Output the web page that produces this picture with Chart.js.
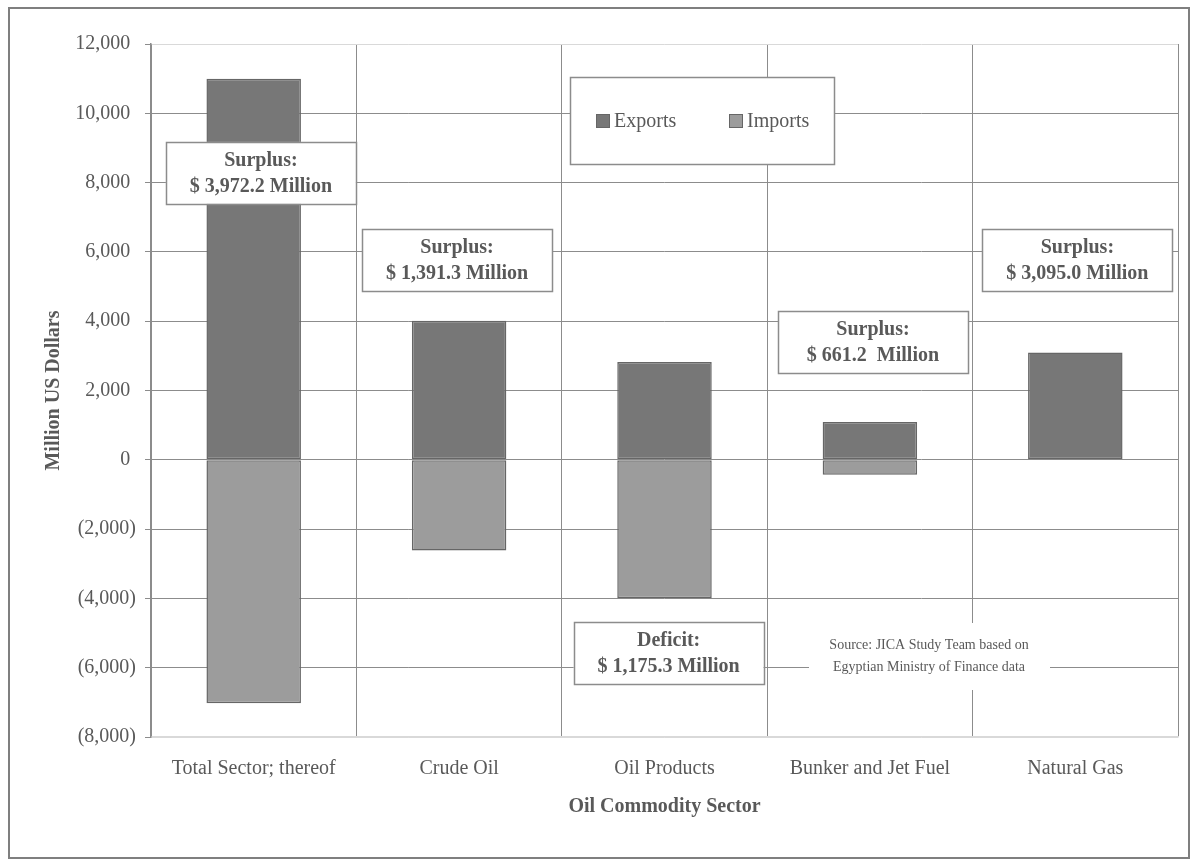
<!DOCTYPE html>
<html lang="en">
<head>
  <meta charset="UTF-8">
  <title>Oil Commodity Sector Trade Balance</title>
  <script src="https://cdn.jsdelivr.net/npm/chart.js"></script>
  <style>
    html, body { margin: 0; padding: 0; background: #fff; }
    #wrap { width: 1192px; height: 861px; }
  </style>
</head>
<body>
  <div id="wrap"><canvas id="balanceChart" width="1192" height="861"></canvas></div>

  <script>
    // data (million US$)
    const sectors = ['Total Sector; thereof', 'Crude Oil', 'Oil Products', 'Bunker and Jet Fuel', 'Natural Gas'];
    const exportsValues = [11000, 4010, 2820, 1090, 3095];
    const importsValues = [-7028, -2619, -3995, -429, 0];
    const balanceKinds = ['Surplus:', 'Surplus:', 'Deficit:', 'Surplus:', 'Surplus:'];
    const balanceAmounts = ['$ 3,972.2 Million', '$ 1,391.3 Million', '$ 1,175.3 Million', '$ 661.2  Million', '$ 3,095.0 Million'];
    const yTicks = [-8000, -6000, -4000, -2000, 0, 2000, 4000, 6000, 8000, 10000, 12000];

    const FONT = "'Liberation Serif', 'Times New Roman', serif";
    const TEXT = '#595959';
    const GRID = '#8c8c8c';
    const EDGE = '#d9d9d9';

    // where each balance box sits: category index (+ shift) and y value of its centre
    const boxAnchors = [
      { shift: 0.035, y: 8280 },
      { shift: -0.01, y: 5770 },
      { shift: 0.02, y: -5580 },
      { shift: 0.015, y: 3400 },
      { shift: 0.01, y: 5770 }
    ];

    // accounting style: negatives in brackets, positives leave room for the bracket
    function fmt(v) {
      const s = Math.abs(v).toLocaleString('en-US');
      return v < 0 ? '(' + s + ')' : s + '\u2009\u200A';
    }

    const extras = {
      id: 'extras',
      beforeDraw(chart) {
        const c = chart.ctx;
        c.save();
        c.fillStyle = '#fff';
        c.fillRect(0, 0, chart.width, chart.height);
        c.strokeStyle = '#7f7f7f';
        c.lineWidth = 2;
        c.strokeRect(9, 8, chart.width - 12, chart.height - 11);
        c.restore();
      },
      afterDatasetsDraw(chart) {
        const c = chart.ctx;
        const xs = chart.scales.x, ys = chart.scales.y;
        const area = chart.chartArea;
        c.save();

        // balance boxes
        const bw = 190, bh = 62;
        boxAnchors.forEach((a, i) => {
          const cx = xs.getPixelForValue(i) + a.shift * (xs.width / sectors.length);
          const cy = ys.getPixelForValue(a.y);
          c.fillStyle = '#fff';
          c.fillRect(cx - bw / 2, cy - bh / 2, bw, bh);
          c.strokeStyle = '#8c8c8c';
          c.lineWidth = 1.5;
          c.strokeRect(Math.round(cx - bw / 2) + 0.5, Math.round(cy - bh / 2) + 0.5, bw, bh);
          c.fillStyle = TEXT;
          c.font = 'bold 20px ' + FONT;
          c.textAlign = 'center';
          c.textBaseline = 'middle';
          c.fillText(balanceKinds[i], cx, cy - 12);
          c.fillText(balanceAmounts[i], cx, cy + 14);
        });

        // legend box
        const lx = area.left + 419, ly = area.top + 33, lw = 264, lh = 87;
        c.fillStyle = '#fff';
        c.fillRect(lx, ly, lw, lh);
        c.strokeStyle = '#8c8c8c';
        c.lineWidth = 1.5;
        c.strokeRect(lx + 0.5, ly + 0.5, lw, lh);
        const items = [
          { label: 'Exports', fill: '#777777', x: lx + 26 },
          { label: 'Imports', fill: '#9c9c9c', x: lx + 159 }
        ];
        items.forEach(it => {
          c.fillStyle = it.fill;
          c.fillRect(it.x, ly + 37, 14, 14);
          c.strokeStyle = '#666';
          c.lineWidth = 1;
          c.strokeRect(it.x + 0.5, ly + 37.5, 13, 13);
          c.fillStyle = TEXT;
          c.font = '20px ' + FONT;
          c.textAlign = 'left';
          c.textBaseline = 'middle';
          c.fillText(it.label, it.x + 18, ly + 45);
        });

        // source note
        c.fillStyle = '#fff';
        c.fillRect(809, 623, 241, 67);
        c.fillStyle = TEXT;
        c.font = '14px ' + FONT;
        c.textAlign = 'center';
        c.textBaseline = 'middle';
        c.fillText('Source: JICA Study Team based on', 929, 645);
        c.fillText('Egyptian Ministry of Finance data', 929, 667);
        c.restore();
      }
    };

    const ctx = document.getElementById('balanceChart').getContext('2d');
    new Chart(ctx, {
      type: 'bar',
      data: {
        labels: sectors,
        datasets: [
          {
            label: 'Exports',
            data: exportsValues,
            backgroundColor: '#777777',
            borderColor: '#666666',
            borderWidth: 1.5,
            borderSkipped: false
          },
          {
            label: 'Imports',
            data: importsValues,
            backgroundColor: '#9c9c9c',
            borderColor: '#666666',
            borderWidth: 1.5,
            borderSkipped: false
          }
        ]
      },
      options: {
        responsive: false,
        animation: false,
        layout: { padding: { left: 0, top: 44, right: 14, bottom: 0 } },
        datasets: { bar: { categoryPercentage: 1, barPercentage: 0.46 } },
        plugins: {
          legend: { display: false },
          tooltip: { enabled: false }
        },
        scales: {
          x: {
            stacked: true,
            afterFit: s => { s.height = 124; },
            grid: {
              offset: true,
              drawTicks: false,
              color: c => (c.index === sectors.length ? EDGE : GRID),
              lineWidth: 1
            },
            border: { display: true, color: EDGE, width: 1.5 },
            ticks: { color: TEXT, font: { family: FONT, size: 20 }, padding: 20 },
            title: {
              display: true,
              text: 'Oil Commodity Sector',
              color: TEXT,
              font: { family: FONT, size: 20, weight: 'bold' },
              padding: { top: 0, bottom: 42 }
            }
          },
          y: {
            stacked: true,
            min: -8000,
            max: 12000,
            afterFit: s => { s.width = 151; },
            afterBuildTicks: s => { s.ticks = yTicks.map(v => ({ value: v })); },
            grid: {
              color: c => (c.tick && (c.tick.value === 12000 || c.tick.value === -8000) ? EDGE : GRID),
              tickColor: GRID,
              tickLength: 6,
              lineWidth: 1
            },
            border: { display: true, color: GRID, width: 1.5 },
            ticks: {
              color: TEXT,
              font: { family: FONT, size: 20 },
              padding: 9,
              callback: v => fmt(v)
            },
            title: {
              display: true,
              text: 'Million US Dollars',
              color: TEXT,
              font: { family: FONT, size: 20, weight: 'bold' },
              padding: { top: 42, bottom: 0 }
            }
          }
        }
      },
      plugins: [extras]
    });
  </script>
</body>
</html>
